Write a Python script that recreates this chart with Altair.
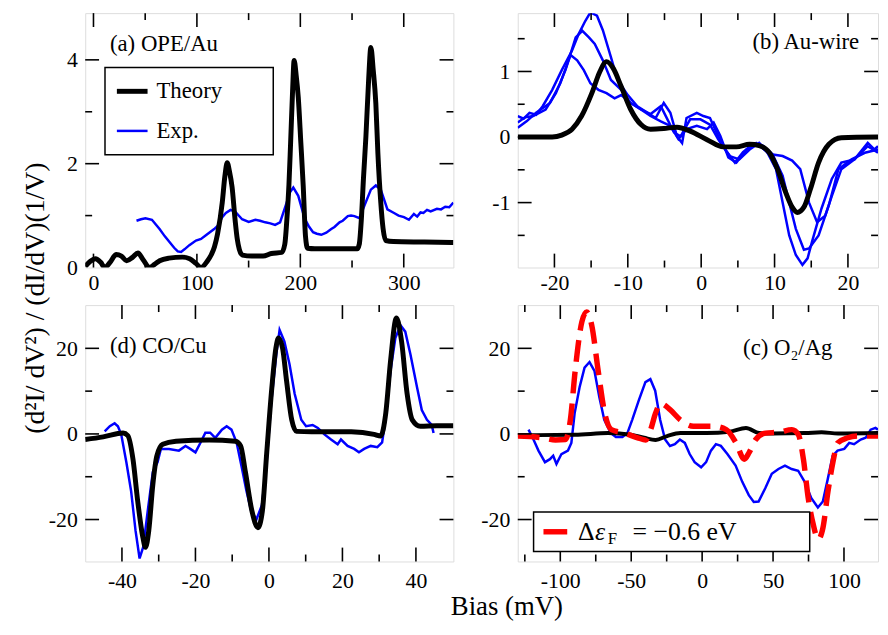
import altair as alt
import pandas as pd

FONT = "Liberation Serif"
BLUE = "#0000ff"
RED = "#ff0000"
BLACK = "#000000"

# ---------------- Panel (a) OPE/Au ----------------
a_theory_x = [-8, -3, 2, 7, 11, 16, 22, 27, 32, 38, 43, 48, 54, 59, 64, 73, 86, 93, 99, 104,
              110, 114, 117, 120, 124.5, 127, 129.3, 131.5, 134, 137, 139, 141, 144, 153, 164,
              172, 182, 185, 187, 189, 190.6, 192.5, 194, 196, 198, 200.5, 202.8, 205, 207, 214,
              255, 257, 259, 261, 263.4, 266, 268.2, 270.5, 273, 275, 277.8, 280, 282.6, 290, 320, 348]
a_theory_y = [0.02, 0.12, 0.17, 0.10, 0.0, 0.1, 0.25, 0.22, 0.13, 0.2, 0.28, 0.15, 0.0, 0.06, 0.13,
              0.18, 0.2, 0.17, 0.08, 0.0, 0.12, 0.25, 0.4, 0.65, 1.25, 1.75, 2.02, 1.85, 1.55, 0.9,
              0.55, 0.35, 0.24, 0.22, 0.22, 0.27, 0.29, 0.45, 0.93, 1.6, 2.4, 3.4, 3.99, 3.7, 3.28,
              2.4, 1.57, 0.6, 0.37, 0.36, 0.36, 0.45, 0.93, 1.7, 2.52, 3.6, 4.24, 3.8, 3.16, 2.2,
              1.25, 0.75, 0.52, 0.5, 0.49, 0.48]
a_exp_x = [41.6, 46, 50.2, 56.5, 63.9, 69, 73.5, 78, 81.5, 84.7, 88, 92.7, 99.1, 104, 108.7, 116.7,
           120, 124.5, 128, 132.5, 137.3, 143.7, 150.1, 156.5, 161, 166.1, 171, 175.6, 180.4, 186.8,
           190, 193.2, 198, 204.4, 208, 212.3, 216, 220.3, 225.1, 229.9, 233, 237.9, 241, 245.9, 249,
           252.3, 257.1, 261.9, 268.2, 273, 277.8, 284.2, 290.6, 295, 300.2, 305, 309.8, 313, 316.2,
           319, 322.5, 326, 332.1, 336, 340.1, 344, 348]
a_exp_y = [0.9, 0.93, 0.95, 0.92, 0.74, 0.6, 0.49, 0.38, 0.31, 0.3, 0.35, 0.43, 0.52, 0.55, 0.62, 0.74,
           0.8, 0.97, 1.05, 1.11, 1.07, 0.93, 0.88, 0.92, 0.9, 0.87, 0.85, 0.82, 0.87, 1.25, 1.45, 1.54,
           1.38, 0.93, 0.8, 0.68, 0.65, 0.63, 0.67, 0.74, 0.78, 0.87, 0.9, 0.99, 1.0, 0.99, 0.95, 1.19,
           1.5, 1.58, 1.5, 1.12, 1.05, 1.0, 0.97, 0.92, 1.03, 0.98, 1.06, 1.05, 1.11, 1.08, 1.13, 1.12,
           1.17, 1.16, 1.25]

# ---------------- Panel (b) Au-wire ----------------
b_theory_x = [-25, -20.3, -19, -17.6, -16.3, -14.9, -13.8, -12.9, -12, -10.9, -9.6, -8.2, -6.9, -5.1,
              -3.3, -1.5, 0.8, 3.0, 4.8, 6.6, 7.9, 9.3, 10.4, 11.5, 12.4, 13.1, 14.0, 14.9, 16.0,
              17.4, 19.1, 24.1]
b_theory_y = [0, 0, 0.03, 0.12, 0.32, 0.67, 1.0, 1.15, 1.05, 0.77, 0.42, 0.19, 0.12, 0.13, 0.15, 0.09,
              -0.04, -0.15, -0.15, -0.11, -0.13, -0.24, -0.49, -0.84, -1.07, -1.15, -1.07, -0.79,
              -0.39, -0.11, -0.01, 0]
b_exp1_x = [-25, -24.2, -23.4, -22.5, -21.6, -20.3, -19, -17.6, -16.7, -15.8, -15.1, -14.2, -13.4,
            -12.3, -11.4, -10.0, -8.7, -7.3, -6.2, -5.1, -4.2, -3.3, -2.6, -2.0, -0.6, 0.3, 1.2, 2.1,
            3.0, 3.9, 5.2, 6.6, 7.9, 8.8, 10.2, 11.1, 12.0, 12.9, 13.8, 14.5, 15.1, 16.4, 17.8, 19.1,
            20.9, 22.7, 23.6, 24.1]
b_exp1_y = [0.32, 0.28, 0.37, 0.34, 0.47, 0.72, 1.02, 1.32, 1.57, 1.77, 1.90, 1.85, 1.63, 1.22, 0.87,
            0.64, 0.47, 0.37, 0.29, 0.52, 0.37, 0.01, -0.09, 0.29, 0.37, 0.32, 0.29, 0.07, -0.14,
            -0.29, -0.34, -0.19, -0.09, -0.19, -0.49, -1.0, -1.5, -1.8, -1.95, -1.85, -1.6, -1.09,
            -0.64, -0.39, -0.34, -0.09, -0.19, -0.14]
b_exp2_x = [-25, -24.0, -22.9, -21.2, -19.8, -18.5, -17.1, -16.2, -15.3, -14.5, -13.4, -12.3, -10.9,
            -9.6, -8.2, -6.9, -5.5, -4.6, -3.7, -2.8, -1.5, -0.1, 1.2, 2.3, 3.5, 4.6, 5.7, 7.0, 8.4,
            9.7, 11.1, 12.0, 12.9, 14.0, 14.7, 16.0, 17.4, 18.7, 20.5, 22.3, 24.1]
b_exp2_y = [0.22, 0.3, 0.32, 0.42, 0.67, 1.02, 1.52, 1.62, 1.52, 1.42, 1.17, 0.87, 0.72, 0.52, 0.42,
            0.35, 0.47, 0.27, 0.07, 0.01, 0.27, 0.27, 0.19, -0.03, -0.23, -0.39, -0.23, -0.11, -0.13,
            -0.26, -0.59, -1.0, -1.4, -1.72, -1.7, -1.5, -1.04, -0.49, -0.34, -0.24, -0.19]
b_exp3_x = [-25, -23.8, -22.5, -20.6, -19.2, -17.8, -16.9, -16.0, -15.1, -14.0, -12.9, -11.8, -10.9,
            -9.6, -8.2, -6.9, -5.5, -4.2, -3.1, -2.0, -0.6, 0.8, 1.7, 2.6, 3.7, 4.8, 6.2, 7.5, 9.3,
            11.1, 12.4, 13.5, 14.7, 15.8, 16.9, 17.8, 19.1, 20.9, 22.7, 24.1]
b_exp3_y = [0.14, 0.24, 0.37, 0.52, 0.82, 1.25, 1.17, 1.02, 0.82, 0.72, 0.67, 0.59, 0.64, 0.52, 0.42,
            0.32, 0.24, 0.17, -0.03, 0.12, 0.17, 0.12, 0.22, 0.02, -0.31, -0.39, -0.19, -0.09, -0.26,
            -0.29, -0.36, -0.49, -1.0, -1.3, -1.2, -0.9, -0.49, -0.34, -0.14, -0.24]

# ---------------- Panel (d) CO/Cu ----------------
d_theory_x = [-50.0, -45.1, -39.7, -38.4, -37.0, -35.7, -34.3, -33.6, -32.7, -31.6, -30.5, -28.9, -25.3,
              -16.3, -9.1, -7.7, -6.4, -4.6, -3.0, -1.8, -0.6, 0.8, 1.9, 2.6, 3.7, 4.8, 6.2, 7.5,
              11.6, 22.4, 28.6, 30.4, 31.8, 33.1, 34.7, 36.1, 37.6, 39.0, 41.2, 45.7, 50.2]
d_theory_y = [-1.3, -0.7, 0.2, -0.4, -5.9, -15.8, -24.2, -26.5, -22.6, -11.9, -5.1, -2.4, -1.7, -1.4,
              -1.7, -2.8, -8.9, -18.1, -21.9, -18.1, -4.4, 10.9, 20.1, 22.4, 20.1, 12.4, 3.3, 0.6,
              0.5, 0.5, -0.1, -0.5, 4.9, 17.1, 27.1, 21.6, 9.4, 3.3, 1.8, 1.9, 1.9]
d_exp_x = [-44.7, -43.3, -42.0, -41.1, -40.2, -38.8, -37.5, -36.3, -35.2, -34.2, -33.0, -31.6, -30.3,
           -29.4, -27.2, -24.5, -22.7, -21.4, -20.0, -18.6, -17.3, -16.0, -14.6, -12.8, -11.5, -10.2,
           -8.8, -7.5, -6.1, -4.8, -3.4, -1.9, -0.7, 0.6, 2.0, 2.9, 4.2, 5.6, 7.0, 8.8, 10.1, 11.9,
           13.3, 15.1, 16.9, 18.7, 19.6, 21.4, 23.2, 24.5, 25.9, 27.7, 29.5, 30.8, 31.7, 33.1, 34.4,
           35.8, 37.1, 38.5, 40.3, 41.6, 43.0, 44.3, 44.8]
d_exp_y = [0.6, 1.8, 2.5, 1.8, -0.1, -6.6, -13.4, -22.6, -29.1, -26.4, -18.1, -8.9, -6.6, -3.5, -3.5,
           -3.9, -2.8, -3.5, -4.3, -2.0, 0.3, 0.3, -0.9, 1.0, 1.8, 1.0, -2.0, -7.4, -13.4, -18.1,
           -20.0, -16.6, -7.4, 7.1, 18.6, 24.3, 21.6, 16.3, 9.4, 3.3, 1.8, 2.1, 1.4, -0.1, -1.3, -2.4,
           -1.3, -2.8, -3.5, -4.3, -3.5, -2.8, -3.1, -2.0, 3.3, 14.8, 22.4, 25.4, 23.9, 18.6, 10.9,
           5.6, 3.3, 2.1, 0.2]

# ---------------- Panel (c) O2/Ag ----------------
c_theory_x = [-130, -89.6, -66.4, -50.2, -40.9, -32.8, -24.7, -15.4, 3.1, 19.3, 30.9, 40.2, 49.4,
              72.6, 84.2, 95.8, 124]
c_theory_y = [-0.3, -0.2, 0.2, -0.2, -0.9, -1.4, -0.5, 0.2, 0.2, 0.5, 1.4, 0.2, 0.1, 0.2, 0.4, 0.1, 0.2]
c_shift_x = [-130, -112.6, -103.4, -96.4, -92.9, -89.5, -84.8, -81.4, -77.9, -73.3, -68.7, -64.0,
             -54.8, -45.5, -39.7, -36.3, -32.8, -29.3, -22.4, -15.4, -6.2, 7.7, 17.0, 23.9, 29.7,
             33.2, 37.8, 44.8, 54.0, 63.3, 67.9, 71.4, 74.8, 78.3, 81.8, 85.2, 88.7, 92.2, 95.6,
             102.6, 109.6, 124]
c_shift_y = [-0.5, -0.9, -1.4, -1.3, 3.3, 14.8, 26.2, 28.5, 25.5, 14.8, 4.9, 1.0, 0.2, -0.9, -1.4, 1.0,
             4.9, 7.1, 5.6, 3.3, 1.8, 1.8, 1.0, -2.1, -5.9, -4.3, -1.3, 0.2, 0.4, 1.0, -0.2, -5.9,
             -15.0, -21.1, -24.6, -21.9, -13.5, -6.6, -2.1, -0.9, -0.5, -0.5]
c_exp_x = [-122.4, -118.9, -115.4, -110.8, -107.3, -105.0, -102.7, -99.2, -94.6, -92.2, -89.9, -86.4,
           -82.9, -79.4, -75.9, -72.5, -69.0, -64.3, -60.8, -56.2, -52.7, -49.3, -44.6, -40.0, -36.5,
           -33.1, -29.6, -26.1, -22.7, -19.2, -15.7, -12.2, -8.8, -5.3, -0.7, 2.8, 6.2, 9.7, 13.2,
           17.8, 23.6, 28.3, 32.9, 36.4, 39.8, 44.5, 49.1, 53.8, 58.4, 63.1, 67.7, 72.3, 77.0, 81.6,
           85.1, 88.6, 92.0, 95.5, 100.2, 103.7, 107.1, 111.8, 115.3, 118.8, 122.2, 124]
c_exp_y = [1.0, -1.3, -3.9, -6.6, -5.9, -5.1, -7.0, -4.7, -3.9, -2.1, 4.8, 10.9, 15.5, 16.8, 14.7, 8.6,
           3.3, 0.2, -0.7, -0.7, 0.2, 3.3, 7.9, 12.1, 12.8, 10.1, 3.3, -1.3, -2.8, -2.4, -1.3, -2.1,
           -4.7, -6.6, -7.8, -6.6, -3.9, -2.4, -2.8, -4.7, -7.4, -11.2, -14.3, -15.9, -15.8, -12.7,
           -9.3, -8.2, -7.4, -8.2, -8.6, -11.2, -15.0, -17.2, -15.8, -10.5, -5.1, -3.9, -3.5, -2.1,
           -2.4, -1.3, -0.9, 1.0, 1.4, 1.0]

# ---------------- ticks / labels ----------------
a_x_major = [0, 100, 200, 300]
a_x_minor = [50, 150, 250]
a_y_labels = [0, 2, 4]
a_y_major = [2, 4]
a_y_minor = [1, 3]
b_x_major = [-20, -10, 0, 10, 20]
b_x_minor = [-15, -5, 5, 15]
b_y_major = [-1, 0, 1]
b_y_minor = [-1.5, -0.5, 0.5, 1.5]
d_x_major = [-40, -20, 0, 20, 40]
d_x_minor = [-30, -10, 10, 30]
c_x_major = [-100, -50, 0, 50, 100]
c_x_minor = [-125, -75, -25, 25, 75]
cd_y_major = [-20, 0, 20]
cd_y_minor = [-10, 10]

W_L, W_R = 372, 364
H_T, H_B = 257, 259
MAJ, MIN = 14, 7
LABEL_SIZE = 22
MINUS_FIX = "replace(datum.label, '\u2212', '-')"


def make_axis(values, pad):
    return alt.Axis(values=values, ticks=False, domain=False, grid=False, title=None,
                    labelFont=FONT, labelFontSize=LABEL_SIZE, labelColor=BLACK,
                    labelPadding=pad, labelFlush=False, labelOverlap=False,
                    labelExpr=MINUS_FIX)


def text(txt, x, y, size=23, align="left", baseline="middle", angle=0, italic=False):
    kw = dict(font=FONT, fontSize=size, align=align, baseline=baseline, color=BLACK)
    if angle:
        kw["angle"] = angle
    if italic:
        kw["fontStyle"] = "italic"
    return alt.Chart(pd.DataFrame({"t": [txt]})).mark_text(**kw).encode(
        text="t:N", x=alt.value(x), y=alt.value(y))


def panel(series, xdom, ydom, xmaj, xmin, ymaj, ymin, xlab, ylab, W, H, xpad, extras):
    xs = alt.Scale(domain=xdom, nice=False, zero=False)
    ys = alt.Scale(domain=ydom, nice=False, zero=False)
    ax = make_axis(xlab, xpad)
    ay = make_axis(ylab, 8)
    layers = []
    for xv, yv, style in series:
        df = pd.DataFrame({"x": xv, "y": yv})
        layers.append(alt.Chart(df).mark_line(clip=True, **style).encode(
            x=alt.X("x:Q", scale=xs, axis=ax), y=alt.Y("y:Q", scale=ys, axis=ay)))
    for vals, L in ((xmaj, MAJ), (xmin, MIN)):
        base = alt.Chart(pd.DataFrame({"v": vals})).mark_rule(color=BLACK, strokeWidth=1.6)
        enc = alt.X("v:Q", scale=xs, axis=ax)
        layers.append(base.encode(x=enc, y=alt.value(0), y2=alt.value(L)))
        layers.append(base.encode(x=enc, y=alt.value(H), y2=alt.value(H - L)))
    for vals, L in ((ymaj, MAJ), (ymin, MIN)):
        base = alt.Chart(pd.DataFrame({"v": vals})).mark_rule(color=BLACK, strokeWidth=1.6)
        enc = alt.Y("v:Q", scale=ys, axis=ay)
        layers.append(base.encode(y=enc, x=alt.value(0), x2=alt.value(L)))
        layers.append(base.encode(y=enc, x=alt.value(W), x2=alt.value(W - L)))
    layers.extend(extras)
    return alt.layer(*layers).properties(width=W, height=H)


theory_style = dict(color=BLACK, strokeWidth=5, interpolate="monotone")
exp_style = dict(color=BLUE, strokeWidth=2.5, interpolate="linear")

box = alt.Chart(pd.DataFrame({"k": [0]}))

# Panel (a)
a_extras = [
    text("(a) OPE/Au", 25, 31),
    box.mark_rect(fill="white", stroke=BLACK, strokeWidth=1.5).encode(
        x=alt.value(20), x2=alt.value(190), y=alt.value(55), y2=alt.value(143)),
    box.mark_rule(color=BLACK, strokeWidth=5).encode(
        x=alt.value(32), x2=alt.value(63), y=alt.value(79)),
    box.mark_rule(color=BLUE, strokeWidth=2.5).encode(
        x=alt.value(32), x2=alt.value(63), y=alt.value(119)),
    text("Theory", 72, 79),
    text("Exp.", 72, 119),
]
pa = panel([(a_exp_x, a_exp_y, exp_style), (a_theory_x, a_theory_y, theory_style)],
           [-8, 348], [0, 4.9], a_x_major, a_x_minor, a_y_major, a_y_minor,
           a_x_major, a_y_labels, W_L, H_T, 5, a_extras)

# Panel (b)
pb = panel([(b_exp1_x, b_exp1_y, exp_style), (b_exp2_x, b_exp2_y, exp_style),
            (b_exp3_x, b_exp3_y, exp_style), (b_theory_x, b_theory_y, theory_style)],
           [-25, 24.1], [-1.99, 1.89], b_x_major, b_x_minor, b_y_major, b_y_minor,
           b_x_major, b_y_major, W_R, H_T, 5, [text("(b) Au-wire", 345, 29, align="right")])

# Panel (d)
d_extras = [
    text("(d) CO/Cu", 25, 41),
    text("(d\u00b2I/ dV\u00b2)  / (dI/dV)(1/V)", -50, -7, size=28, align="center", angle=270),
    text("Bias (mV)", 426, 313, size=27, align="center", baseline="alphabetic"),
    # invisible anchor fixing the chart's left extent
    box.mark_rect(opacity=0).encode(
        x=alt.value(-77), x2=alt.value(-76), y=alt.value(0), y2=alt.value(4)),
]
pdd = panel([(d_exp_x, d_exp_y, exp_style), (d_theory_x, d_theory_y, theory_style)],
            [-50, 50.2], [-29.8, 30.1], d_x_major, d_x_minor, cd_y_major, cd_y_minor,
            d_x_major, cd_y_major, W_L, H_B, 9, d_extras)

# Panel (c)
c_extras = [
    text("(c) O\u2082/Ag", 318, 43, align="right"),
    box.mark_rect(fill="white", stroke=BLACK, strokeWidth=1.5).encode(
        x=alt.value(16), x2=alt.value(295), y=alt.value(209), y2=alt.value(249)),
    box.mark_rule(color=RED, strokeWidth=5.5).encode(
        x=alt.value(26), x2=alt.value(50), y=alt.value(229)),
    text("\u0394", 61, 229, size=26),
    text("\u03b5", 78, 229, size=26, italic=True),
    text("F", 91, 236, size=17),
    text("= \u22120.6 eV", 116, 229, size=26),
]
pc = panel([(c_exp_x, c_exp_y, exp_style),
            (c_theory_x, c_theory_y, dict(color=BLACK, strokeWidth=4, interpolate="monotone")),
            (c_shift_x, c_shift_y, dict(color=RED, strokeWidth=5.5, strokeDash=[22, 10],
                                        interpolate="monotone"))],
           [-130, 124], [-29.8, 30.1], c_x_major, c_x_minor, cd_y_major, cd_y_minor,
           c_x_major, cd_y_major, W_R, H_B, 9, c_extras)

chart = alt.concat(pa, pb, pdd, pc, columns=2, spacing={"row": 38, "column": 65},
                   bounds="flush", align="each").properties(
    padding={"left": 0, "top": 0, "right": 0, "bottom": 0}
).configure_view(stroke=BLACK, strokeWidth=2).configure_axis(
    labelFont=FONT, labelFontSize=LABEL_SIZE, labelColor=BLACK
).configure(font=FONT)

chart.save("out.html", embed_options={"renderer": "svg", "actions": False})
